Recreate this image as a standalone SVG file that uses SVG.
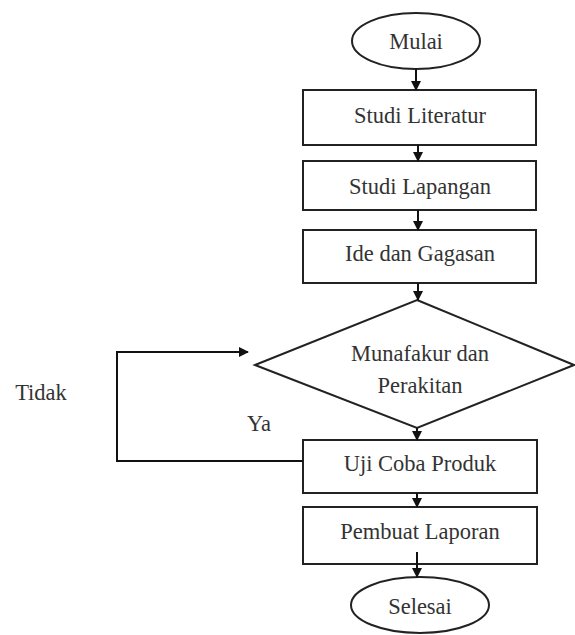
<svg xmlns="http://www.w3.org/2000/svg" width="575" height="635" viewBox="0 0 575 635">
<style>
.s{fill:#fff;stroke:#222;stroke-width:2}
.l{fill:none;stroke:#111;stroke-width:2}
text{font-family:'Liberation Serif','Times New Roman',serif;font-size:22.5px;fill:#333;text-anchor:middle}
</style>
<defs>
<marker id="a" markerWidth="10" markerHeight="10" refX="9" refY="5" orient="auto" markerUnits="userSpaceOnUse">
<path d="M0,0 L10,5 L0,10 Z" fill="#111"/>
</marker>
</defs>
<rect width="575" height="635" fill="#fff"/>
<g id="n-mulai"><ellipse class="s" cx="416" cy="41" rx="64" ry="28"/><text x="416" y="49">Mulai</text></g>
<g id="n-literatur"><rect class="s" x="303" y="90" width="233" height="55"/><text x="420" y="123">Studi Literatur</text></g>
<g id="n-lapangan"><rect class="s" x="303" y="161" width="233" height="49"/><text x="420" y="194">Studi Lapangan</text></g>
<g id="n-ide"><rect class="s" x="303" y="230" width="233" height="53"/><text x="420" y="261">Ide dan Gagasan</text></g>
<g id="n-munafakur"><polygon class="s" points="417,300 574,365 417,428 255,365"/><text x="420" y="361">Munafakur dan</text><text x="420" y="393">Perakitan</text></g>
<g id="n-uji"><rect class="s" x="303" y="440" width="234" height="53"/><text x="420" y="471">Uji Coba Produk</text></g>
<g id="n-laporan"><rect class="s" x="303" y="507" width="234" height="57"/><text x="420" y="539">Pembuat Laporan</text></g>
<g id="n-selesai"><ellipse class="s" cx="420" cy="605" rx="69" ry="28"/><text x="420" y="614">Selesai</text></g>
<g id="connectors">
<line class="l" x1="416" y1="69" x2="416" y2="90" marker-end="url(#a)"/>
<line class="l" x1="418" y1="145" x2="418" y2="161" marker-end="url(#a)"/>
<line class="l" x1="418" y1="210" x2="418" y2="230" marker-end="url(#a)"/>
<line class="l" x1="418" y1="283" x2="418" y2="300" marker-end="url(#a)"/>
<line class="l" x1="417" y1="428" x2="417" y2="440" marker-end="url(#a)"/>
<line class="l" x1="417" y1="493" x2="417" y2="507" marker-end="url(#a)"/>
<line class="l" x1="417" y1="552" x2="417" y2="577" marker-end="url(#a)"/>
<polyline class="l" points="303,461 117,461 117,352 248,352" marker-end="url(#a)"/>
</g>
<text x="41" y="400">Tidak</text>
<text x="259" y="431">Ya</text>
</svg>
